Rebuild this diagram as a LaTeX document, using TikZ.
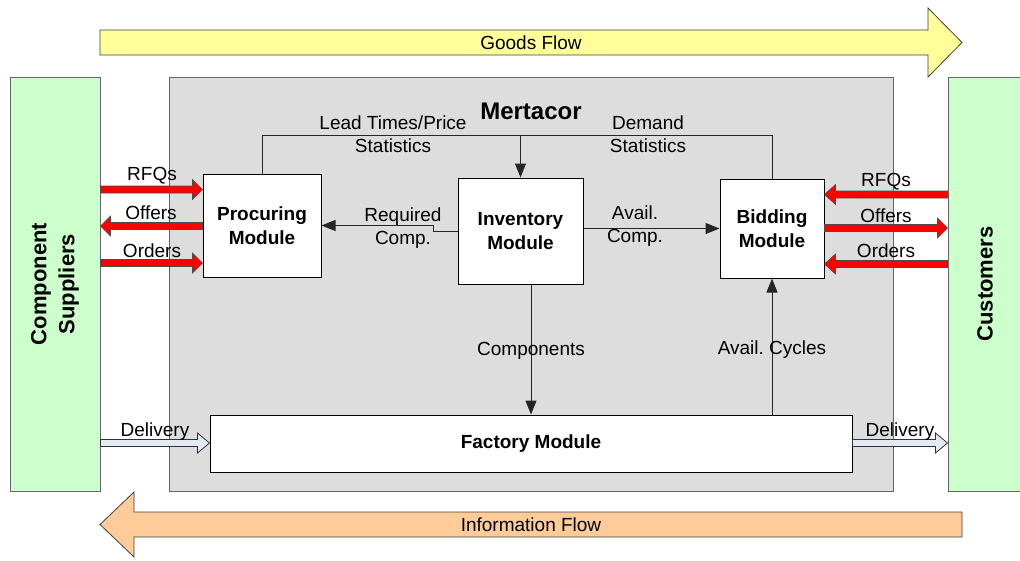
\documentclass[tikz,border=0pt]{standalone}
\usepackage{fontspec}
\setmainfont{Liberation Sans}
\usetikzlibrary{calc,arrows.meta}
\frenchspacing
\definecolor{supgreen}{HTML}{CCFFCC}
\definecolor{agentgray}{HTML}{DDDDDD}
\definecolor{goodsyellow}{HTML}{FFFF99}
\definecolor{infoorange}{HTML}{FFCC99}
\definecolor{delblue}{HTML}{E3EAF6}
\definecolor{edgegray}{HTML}{666666}
\newcommand\blockarr[8]{%
  \coordinate (ba1) at (#2 |- 0,#4);
  \coordinate (ba2) at (#3 |- 0,#4);
  \coordinate (bah) at ($(ba2)+({-(#5)*(#8)},0)$);
  \draw[#1] ($(ba1)+(0,-#6)$) -- ($(bah)+(0,-#6)$) -- ($(bah)+(0,-#7)$) -- (ba2)
    -- ($(bah)+(0,#7)$) -- ($(bah)+(0,#6)$) -- ($(ba1)+(0,#6)$) -- cycle;}
\tikzset{
  lbl/.style={font=\fontsize{19}{23}\selectfont, inner sep=0pt, align=center},
  mod/.style={draw=black, fill=white, line width=1pt, inner sep=0pt, align=center,
              font=\bfseries\fontsize{19}{24}\selectfont},
  sidebox/.style={draw=edgegray, fill=supgreen, line width=1pt, inner sep=0pt},
  redarr/.style={draw=black!70, fill=red, line width=0.6pt, line join=miter},
  delarr/.style={draw=black!80, fill=delblue, line width=0.8pt},
  conn/.style={draw=black!85, line width=1pt, -{Triangle[length=14pt,width=11pt]}},
  flowarr/.style={draw=black!75, line width=0.8pt},
}
\begin{document}
\begin{tikzpicture}[x=1pt,y=-1pt]
\useasboundingbox (0,0) rectangle (1020,560);
% flow arrows
\draw[flowarr, fill=goodsyellow] (100,30) -- (928,30) -- (928,8) -- (962,42.5) -- (928,77) -- (928,55) -- (100,55) -- cycle;
\node[lbl] (goods) at (531,42.5) {Goods Flow};
\draw[flowarr, fill=infoorange] (962,512) -- (134,512) -- (134,492) -- (100,524.5) -- (134,557) -- (134,537) -- (962,537) -- cycle;
\node[lbl] (info) at (531,524.5) {Information Flow};
% side boxes
\node[sidebox, minimum width=90, minimum height=414] (sup) at (55,284) {};
\node[lbl, rotate=90, font=\bfseries\fontsize{22}{28}\selectfont] (suptext) at (sup.center) {Component\\Suppliers};
\node[sidebox, minimum width=80, minimum height=414] (cust) at (988,284) {};
\node[lbl, rotate=90, font=\bfseries\fontsize{22}{28}\selectfont] (custtext) at (985,284) {Customers};
% agent box
\node[draw=edgegray, fill=agentgray, line width=1pt, minimum width=724, minimum height=414, inner sep=0pt] (agent) at (531,284) {};
\node[lbl, font=\bfseries\fontsize{24}{28}\selectfont] (mertacor) at (531,111) {Mertacor};
% modules
\node[mod, minimum width=118, minimum height=103] (proc) at (262,225.5) {Procuring\\Module};
\node[mod, minimum width=125, minimum height=106] (inv) at (520.5,231) {Inventory\\Module};
\node[mod, minimum width=104, minimum height=99] (bid) at (772,228.5) {Bidding\\Module};
\node[mod, minimum width=642, minimum height=57] (fac) at (531,443.5) {Factory Module};
% top statistics line
\coordinate (tl) at (0,135.5);
\draw[draw=black!85, line width=1pt] (proc.north) -- (proc.north |- tl) -- (bid.north |- tl) -- (bid.north);
\draw[conn] (inv.north |- tl) -- (inv.north);
\node[lbl] (lead) at (393,134) {Lead Times/Price\\Statistics};
\node[lbl] (demand) at (648,134) {Demand\\Statistics};
% internal connectors
\coordinate (jog) at (433,231);
\draw[conn] (inv.west) -- (jog) -- (jog |- proc.east) -- (proc.east);
\node[lbl] (reqlbl) at (403,228) {Required\\Comp.};
\draw[conn] (bid.west -| inv.east) -- (bid.west);
\node[lbl] (avlbl) at (635,226) {Avail.\\Comp.};
\draw[conn] (inv.south -| fac.north) -- (fac.north);
\node[lbl] (complbl) at (531,351) {Components};
\draw[conn] (fac.north -| bid.south) -- (bid.south);
\node[lbl] (cyclbl) at (772,350) {Avail. Cycles};
% red arrows left
\blockarr{redarr}{sup.east}{proc.west}{189.5}{1}{3.5}{10}{10}
\node[lbl] (rfqL) at (152,176) {RFQs};
\blockarr{redarr}{proc.west}{sup.east}{226}{-1}{3.5}{10}{10}
\node[lbl] (offL) at (151,213) {Offers};
\blockarr{redarr}{sup.east}{proc.west}{263}{1}{3.5}{10}{10}
\node[lbl] (ordL) at (152,251) {Orders};
% red arrows right
\blockarr{redarr}{cust.west}{bid.east}{194.5}{-1}{3.5}{10}{11}
\node[lbl] (rfqR) at (886,182) {RFQs};
\blockarr{redarr}{bid.east}{cust.west}{228}{1}{3.5}{10}{10}
\node[lbl] (offR) at (886,216) {Offers};
\blockarr{redarr}{cust.west}{bid.east}{264}{-1}{3.5}{10}{11}
\node[lbl] (ordR) at (886,251) {Orders};
% delivery arrows
\blockarr{delarr}{sup.east}{fac.west}{443}{1}{3.5}{10}{12}
\node[lbl] (delL) at (155,432) {Delivery};
\blockarr{delarr}{fac.east}{cust.west}{443}{1}{3.5}{10}{12}
\node[lbl] (delR) at (900,432) {Delivery};
\end{tikzpicture}
\end{document}
